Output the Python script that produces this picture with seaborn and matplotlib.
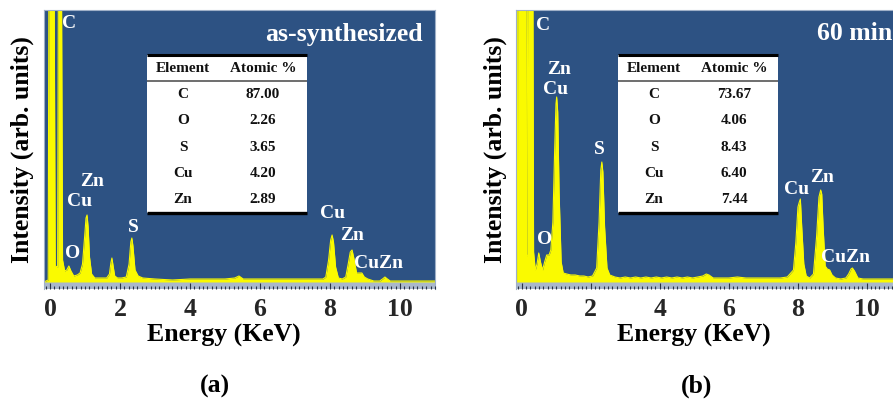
import matplotlib
matplotlib.use("Agg")
import matplotlib.pyplot as plt
import seaborn as sns
import pandas as pd
from matplotlib.ticker import MultipleLocator, FixedLocator
from matplotlib.patches import Rectangle

# ---------------- data ----------------
energy_a = [-0.17, -0.05, -0.03, 0.12, 0.15, 0.22, 0.24, 0.33, 0.36, 0.42,
            0.48, 0.54, 0.60, 0.68, 0.78, 0.86, 0.93, 0.99, 1.03, 1.06,
            1.09, 1.13, 1.19, 1.28, 1.45, 1.62, 1.70, 1.74, 1.77, 1.80,
            1.85, 1.93, 2.05, 2.18, 2.26, 2.31, 2.34, 2.37, 2.43, 2.52,
            2.65, 3.00, 3.50, 4.00, 4.50, 5.00, 5.28, 5.40, 5.52, 6.00,
            6.50, 7.00, 7.50, 7.80, 7.88, 7.96, 8.02, 8.06, 8.10, 8.16,
            8.24, 8.35, 8.45, 8.52, 8.58, 8.63, 8.68, 8.76, 8.84, 8.91,
            8.98, 9.08, 9.25, 9.42, 9.50, 9.57, 9.64, 9.72, 9.90, 10.5,
            11.0]
counts_a = [0, 2, 300, 300, 16, 15, 300, 300, 22, 11,
            12, 16, 11, 6, 7, 9, 18, 45, 64, 67,
            55, 25, 8, 4, 4, 4, 8, 19, 24, 17,
            6, 4, 4, 5, 18, 40, 44, 36, 12, 6,
            4, 3, 2, 3, 3, 3, 4, 6, 3, 3,
            3, 3, 3, 3, 5, 22, 42, 47, 40, 15,
            4, 3, 5, 18, 30, 32, 24, 9, 9, 9,
            5, 3, 1, 1, 3, 5, 3, 1, 1, 1,
            1]

energy_b = [-0.17, -0.13, -0.12, 0.12, 0.13, 0.15, 0.17, 0.32, 0.34, 0.39,
            0.44, 0.49, 0.54, 0.60, 0.66, 0.72, 0.79, 0.84, 0.90, 0.95,
            0.99, 1.01, 1.04, 1.08, 1.14, 1.20, 1.30, 1.42, 1.55, 1.68,
            1.80, 1.92, 2.05, 2.17, 2.24, 2.29, 2.32, 2.35, 2.40, 2.47,
            2.55, 2.70, 2.85, 3.00, 3.15, 3.30, 3.45, 3.60, 3.75, 3.90,
            4.05, 4.20, 4.35, 4.50, 4.65, 4.80, 4.95, 5.10, 5.25, 5.35,
            5.43, 5.55, 5.75, 6.00, 6.25, 6.50, 6.75, 7.00, 7.25, 7.50,
            7.70, 7.88, 7.95, 8.01, 8.05, 8.08, 8.12, 8.18, 8.25, 8.35,
            8.46, 8.55, 8.62, 8.67, 8.70, 8.74, 8.80, 8.86, 8.93, 9.00,
            9.10, 9.25, 9.40, 9.48, 9.55, 9.59, 9.65, 9.75, 9.90, 10.2,
            10.6, 11.0]
counts_b = [0, 0, 300, 300, 28, 26, 300, 300, 30, 12,
            18, 29, 20, 12, 20, 27, 27, 32, 60, 130,
            178, 185, 170, 90, 20, 9, 8, 7, 7, 6,
            6, 5, 6, 14, 60, 112, 120, 110, 55, 14,
            7, 5, 4, 5, 4, 5, 4, 5, 4, 5,
            4, 5, 4, 5, 4, 5, 4, 5, 6, 8,
            7, 4, 4, 4, 5, 4, 4, 4, 4, 4,
            5, 12, 40, 75, 80, 83, 55, 18, 6, 4,
            8, 45, 85, 92, 88, 55, 16, 13, 12, 7,
            4, 3, 4, 8, 13, 14, 11, 4, 3, 3,
            3, 3]

elements = ["C", "O", "S", "Cu", "Zn"]
atomic_a = ["87.00", "2.26", "3.65", "4.20", "2.89"]
atomic_b = ["73.67", "4.06", "8.43", "6.40", "7.44"]
table_header = ["Element", "Atomic %"]
xtick_values = [0, 2, 4, 6, 8, 10]
peak_names_a = ["C", "Zn", "Cu", "O", "S", "Cu", "Zn", "CuZn"]
peak_names_b = ["C", "Zn", "Cu", "O", "S", "Cu", "Zn", "CuZn"]
title_a = "as-synthesized"
title_b = "60 min"
panel_a = "(a)"
panel_b = "(b)"
xlabel = "Energy (KeV)"
ylabel = "Intensity (arb. units)"

# ---------------- style ----------------
sns.set_theme(style="white")
plt.rcParams["font.family"] = ["Liberation Serif", "DejaVu Serif"]
plt.rcParams["font.weight"] = "bold"

BLUE = "#2d5283"
STRIP = "#a9b7cb"
YELLOW = "#fafa00"
FS = 18.5

W, H = 893, 400
fig = plt.figure(figsize=(W / 100, H / 100), dpi=100)


def px_rect(left, right, top, bottom):
    return [left / W, 1 - bottom / H, (right - left) / W, (bottom - top) / H]


ax_a = fig.add_axes(px_rect(44, 435, 10, 289))
ax_b = fig.add_axes(px_rect(516, 901, 10, 289))


def draw_panel(ax, energy, counts, names, name_pos, values, table_box,
               title, title_pos, title_ha, label_x):
    df = pd.DataFrame({"Energy": energy, "Counts": counts})
    ax.set_facecolor(BLUE)
    ax.axhspan(-7, 0, color=STRIP, zorder=0.3, lw=0)
    ax.fill_between(df["Energy"], 0, df["Counts"], color=YELLOW, lw=0, zorder=1)
    sns.lineplot(data=df, x="Energy", y="Counts", ax=ax, color=YELLOW,
                 lw=0.8, estimator=None, sort=False, zorder=2)
    ax.set_xlim(-0.17, 11.0)
    ax.set_ylim(-7, 272)
    ax.set_yticks([])
    ax.xaxis.set_major_locator(FixedLocator(xtick_values))
    ax.xaxis.set_minor_locator(MultipleLocator(0.125))
    ax.tick_params(axis="x", which="both", direction="in", bottom=True,
                   color="#2a3344", width=0.8)
    ax.tick_params(axis="x", which="major", length=4, pad=6.5,
                   labelsize=FS)
    ax.tick_params(axis="x", which="minor", length=2.5)
    for lab in ax.get_xticklabels():
        lab.set_fontweight("bold")
    ax.xaxis.set_zorder(5)
    for s in ["top", "left", "right"]:
        ax.spines[s].set_color("#9fb0c8")
        ax.spines[s].set_linewidth(0.8)
    ax.spines["bottom"].set_visible(False)

    ax.set_xlabel(xlabel, fontsize=FS, fontweight="bold", color="black")
    ax.xaxis.set_label_coords(label_x, -0.125)
    ax.set_ylabel(ylabel, fontsize=FS, fontweight="bold", color="black")
    ax.yaxis.label.set_va("center")
    ax.yaxis.set_label_coords(-0.055, 0.5)

    for nm, (x, y) in zip(names, name_pos):
        ax.text(x, y, nm, color="white", fontsize=14, fontweight="bold",
                ha="center", va="center", zorder=6)

    ax.text(title_pos[0], title_pos[1], title, transform=ax.transAxes,
            color="white", fontsize=FS, fontweight="bold", ha=title_ha,
            va="center", zorder=6, clip_on=False)

    # table
    x0, x1, y0, y1 = table_box
    ax.add_patch(Rectangle((x0, y0), x1 - x0, y1 - y0, transform=ax.transAxes,
                           facecolor="white", edgecolor="none", zorder=6))
    cell_text = [[e, v] for e, v in zip(elements, values)]
    tb = ax.table(cellText=cell_text, colLabels=table_header, cellLoc="center",
                  bbox=[x0, y0, x1 - x0, y1 - y0], edges="open",
                  colWidths=[0.45, 0.55])
    tb.auto_set_font_size(False)
    for (r, c), cell in tb.get_celld().items():
        t = cell.get_text()
        t.set_fontsize(11)
        t.set_fontweight("bold")
        t.set_color("#111111")
    tb.set_zorder(7)
    rh = (y1 - y0) / 6
    ax.plot([x0, x1], [y1, y1], transform=ax.transAxes, color="black",
            lw=2.2, zorder=8, clip_on=False, solid_capstyle="butt")
    ax.plot([x0, x1], [y1 - rh, y1 - rh], transform=ax.transAxes,
            color="#555555", lw=1.2, zorder=8, clip_on=False,
            solid_capstyle="butt")
    ax.plot([x0, x1], [y0, y0], transform=ax.transAxes, color="black",
            lw=2.4, zorder=8, clip_on=False, solid_capstyle="butt")


pos_a = [(0.54, 259), (1.20, 100), (0.86, 81), (0.66, 28), (2.37, 55),
         (8.06, 68), (8.63, 47), (9.40, 19)]
pos_b = [(0.61, 257), (1.07, 212), (0.99, 193), (0.67, 42), (2.26, 132),
         (7.97, 92), (8.70, 105), (9.39, 25)]

draw_panel(ax_a, energy_a, counts_a, peak_names_a, pos_a, atomic_a,
           ((147 - 44) / 391, (307 - 44) / 391, (289 - 213) / 279, (289 - 55) / 279),
           title_a, ((423 - 44) / 391, (289 - 34) / 279), "right",
           (224 - 44) / 391)
draw_panel(ax_b, energy_b, counts_b, peak_names_b, pos_b, atomic_b,
           ((618 - 516) / 385, (778 - 516) / 385, (289 - 213) / 279, (289 - 55) / 279),
           title_b, ((892 - 516) / 385, (289 - 34) / 279), "right",
           (694 - 516) / 385)

fig.text(215 / W, 1 - 386 / H, panel_a, fontsize=FS, fontweight="bold",
         ha="center", va="center", color="black")
fig.text(697 / W, 1 - 386 / H, panel_b, fontsize=FS, fontweight="bold",
         ha="center", va="center", color="black")

fig.savefig("out.png", dpi=100, facecolor="white")
